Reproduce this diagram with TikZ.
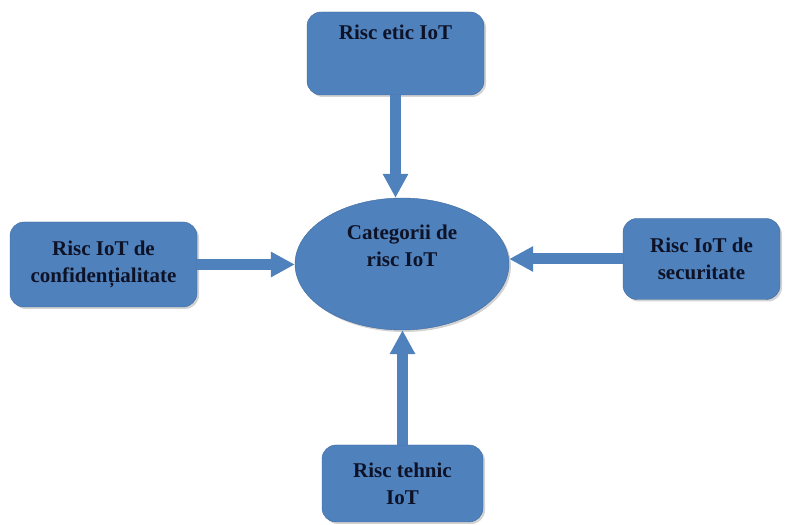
\documentclass[tikz,border=0pt]{standalone}
\usepackage{fontspec}
\setmainfont{Liberation Serif}
\usetikzlibrary{shapes.geometric, arrows.meta, shadows}
\tikzstyle{every picture}+=[font=\fontsize{21}{27}\selectfont\bfseries]
\tikzstyle{riscbox}=[draw=riscedge, fill=riscblue, text=risctext, align=center,
  rounded corners=14pt, minimum height=81pt, inner sep=12pt,
  drop shadow={opacity=.35, shadow xshift=2pt, shadow yshift=-2pt}]
\tikzstyle{riscarrow}=[draw=riscblue, line width=11pt,
  -{Triangle[length=24pt, width=24pt]}]

\begin{document}
\begin{tikzpicture}[x=1pt, y=1pt]
\definecolor{riscblue}{RGB}{79,129,189}
\definecolor{riscedge}{RGB}{64,105,158}
\definecolor{risctext}{RGB}{14,18,38}
\useasboundingbox (0,0) rectangle (785,525);

%% centre
\node[riscbox, ellipse, rounded corners=0pt, inner sep=0pt,
  minimum width=214pt, minimum height=132pt, text depth=36pt]
  (categ) at (402,261) {Categorii de\\ risc IoT};

%% the four risks
\node[riscbox, minimum width=177pt, minimum height=83pt,
  text height=15pt, text depth=43pt] (etic) at (395.5,471.5) {Risc etic IoT};
\node[riscbox, minimum width=187pt, minimum height=85pt]
  (confid) at (103.5,260.5) {Risc IoT de\\ confidențialitate};
\node[riscbox, minimum width=157pt]
  (secur) at (701.5,266) {Risc IoT de\\ securitate};
\node[riscbox, minimum width=161pt, minimum height=77pt]
  (tehnic) at (402.5,41.5) {Risc tehnic\\ IoT};

%% arrows
\draw[riscarrow] (etic.south) -- (etic.south |- categ.north);
\draw[riscarrow] (confid.east) -- (confid.east -| categ.west);
\draw[riscarrow] (secur.west) -- (secur.west -| categ.east);
\draw[riscarrow] (tehnic.north) -- (tehnic.north |- categ.south);

\end{tikzpicture}
\end{document}
